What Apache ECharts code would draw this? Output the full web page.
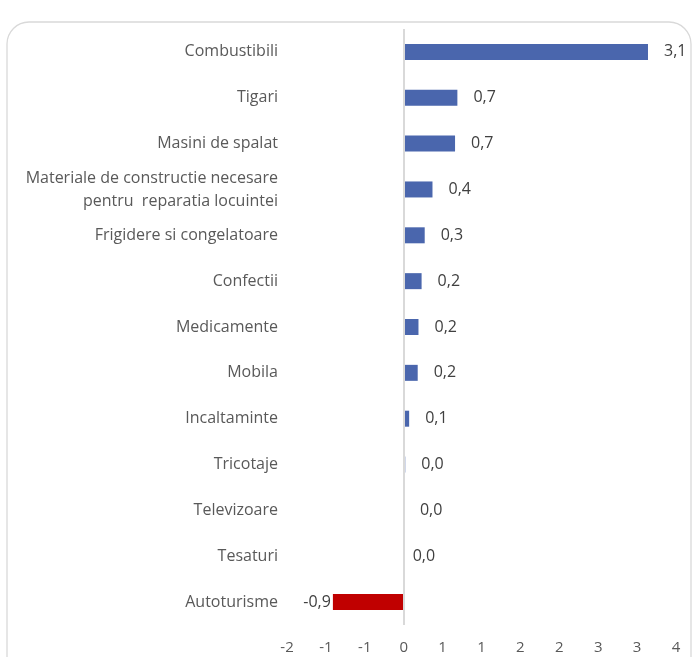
<!DOCTYPE html>
<html>
<head>
<meta charset="utf-8">
<script src="https://cdn.jsdelivr.net/npm/echarts@6/dist/echarts.min.js"></script>
<style>
html,body{margin:0;padding:0;background:#fff;}
#c{width:694px;height:657px;}
</style>
</head>
<body>
<div id="c"></div>
<script>
const categories = ["Combustibili","Tigari","Masini de spalat","Materiale de constructie necesare\npentru  reparatia locuintei","Frigidere si congelatoare","Confectii","Medicamente","Mobila","Incaltaminte","Tricotaje","Televizoare","Tesaturi","Autoturisme"];
const values = [3.14,0.69,0.66,0.37,0.27,0.23,0.19,0.18,0.07,0.02,0.003,0.0,-0.91];
const tickValues = [-1.5,-1,-0.5,0,0.5,1,1.5,2,2.5,3,3.5];

const chart = echarts.init(document.getElementById('c'), null, {renderer:'canvas'});
const FONT = 'Open Sans';
const fmt = v => {
  const s = (Math.round(v*10)/10).toFixed(1).replace('.', ',');
  return s === '-0,0' ? '0,0' : s;
};
const data = values.map((v, i) => {
  const item = {value: v, itemStyle: {color: v < 0 ? '#c00000' : '#4a66ad'}};
  if (v < 0) item.label = {position: 'left', distance: 2};
  else if (v === 0) item.label = {position: 'right', distance: 9};
  return item;
});
chart.setOption({
  animation: false,
  graphic: [{
    type: 'rect', shape: {x: 7, y: 22, width: 684, height: 660, r: 22},
    style: {fill: 'none', stroke: '#d9d9d9', lineWidth: 1.3}, z: -1
  }],
  grid: {left: 287, width: 389, top: 29, height: 596, containLabel: false},
  xAxis: {
    type: 'value', min: -1.5, max: 3.5, interval: 0.5,
    axisLine: {show: false}, axisTick: {show: false}, splitLine: {show: false},
    axisLabel: {
      color: '#595959', fontSize: 15, fontFamily: FONT, margin: 15,
      formatter: v => {
        const r = v < 0 ? -Math.round(-v + 1e-9) : Math.round(v + 1e-9);
        return String(r);
      }
    }
  },
  yAxis: {
    type: 'category', data: categories, inverse: true,
    axisLine: {show: false, onZero: false}, axisTick: {show: false},
    axisLabel: {color: '#595959', fontSize: 16, fontFamily: FONT, margin: 9, lineHeight: 23, align: 'right'}
  },
  series: [{
    type: 'bar', data: data, barWidth: 16,
    label: {
      show: true, position: 'right', distance: 16,
      color: '#404040', fontSize: 16, fontFamily: FONT,
      formatter: p => fmt(p.value)
    },
    markLine: {
      silent: true, symbol: 'none', animation: false,
      label: {show: false},
      lineStyle: {color: '#d9d9d9', width: 2, type: 'solid'},
      data: [{xAxis: 0}]
    }
  }]
});
</script>
</body>
</html>
